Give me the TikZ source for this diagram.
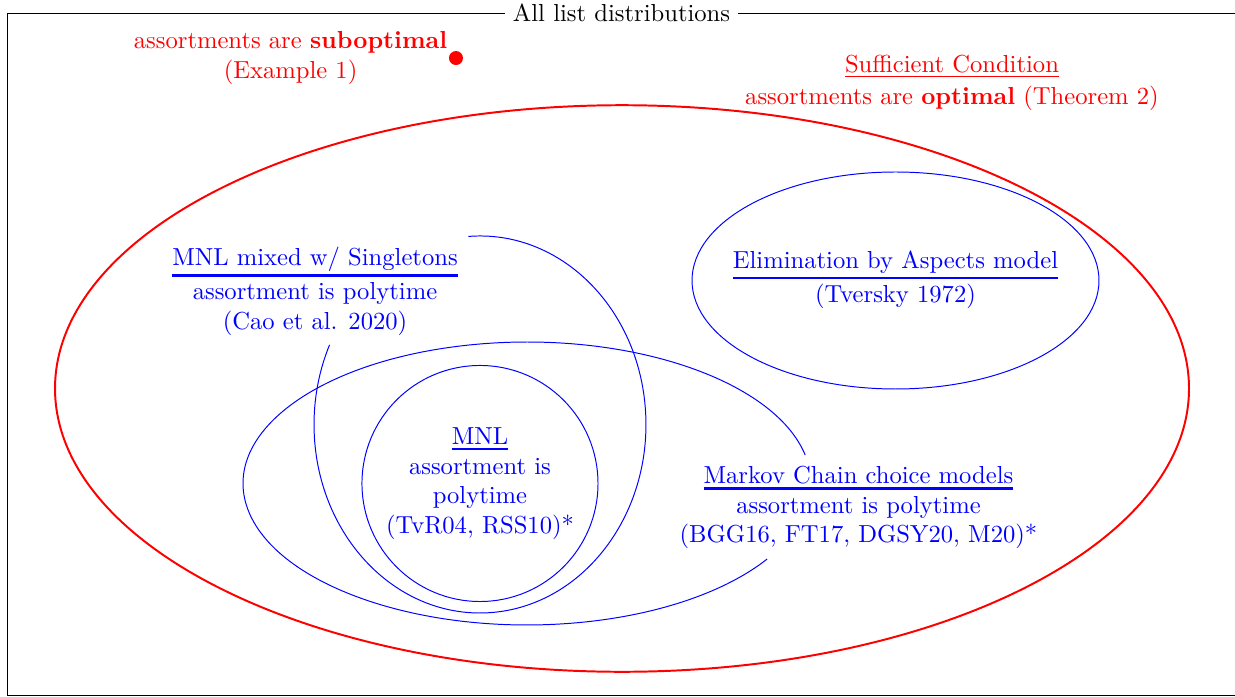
\documentclass[tikz,border=0pt]{standalone}

\newcommand{\ulhead}[2][1pt]{%
  \setbox0=\hbox{#2}%
  \leavevmode\rlap{\rule[\dimexpr-\dp0-1.2pt-#1\relax]{\wd0}{#1}}\box0}

\begin{document}
\begin{tikzpicture}[
    redtext/.style={text=red, align=center},
    bluetext/.style={text=blue, align=center},
    setline/.style={blue},
  ]
  \useasboundingbox (0,0) rectangle (17.643,-9.943);

  % zeichne Rahmen
  \draw (0.1,-0.186) rectangle (17.7,-9.93);
  \node[fill=white] (title) at (8.879,-0.186) {All list distributions};

  % zeichne Mengen
  \draw[thick, red] (8.886,-5.55) ellipse [x radius=8.1, y radius=4.047];
  \draw[setline] (12.793,-4.007) ellipse [x radius=2.907, y radius=1.55];
  \draw[setline] (6.857,-6.907) circle [radius=1.686];
  \coordinate (mixc) at (6.857,-6.064);
  \draw[setline] ([shift={(94:2.371 and 2.693)}]mixc) arc [start angle=94, end angle=-205, x radius=2.371, y radius=2.693];
  \coordinate (mcc) at (7.529,-6.907);
  \draw[setline] ([shift={(11.6:4.057 and 2.021)}]mcc) arc [start angle=11.6, end angle=327.7, x radius=4.057, y radius=2.021];

  % zeichne Labels
  \node[circle, fill=red, inner sep=0pt, minimum size=0.2cm] (dot) at (6.514,-0.829) {};
  \node[redtext, anchor=east] (subopt) at (dot.center) {assortments are \textbf{suboptimal}\\(Example 1)};
  \node[redtext] (suff) at (13.6,-1.179) {\ulhead[0.7pt]{Sufficient Condition}\\[1pt] assortments are \textbf{optimal} (Theorem 2)};
  \node[bluetext] (mixed) at (4.5,-4.157) {\ulhead{MNL mixed w/ Singletons}\\[2pt] assortment is polytime\\(Cao et al. 2020)};
  \node[bluetext] (eba) at (12.793,-4.0) {\ulhead{Elimination by Aspects model}\\[2pt](Tversky 1972)};
  \node[bluetext] (mnl) at (6.857,-6.91) {\ulhead{MNL}\\assortment is\\polytime\\(TvR04, RSS10)*};
  \node[bluetext] (markov) at (12.264,-7.25) {\ulhead{Markov Chain choice models}\\assortment is polytime\\(BGG16, FT17, DGSY20, M20)*};
\end{tikzpicture}
\end{document}
